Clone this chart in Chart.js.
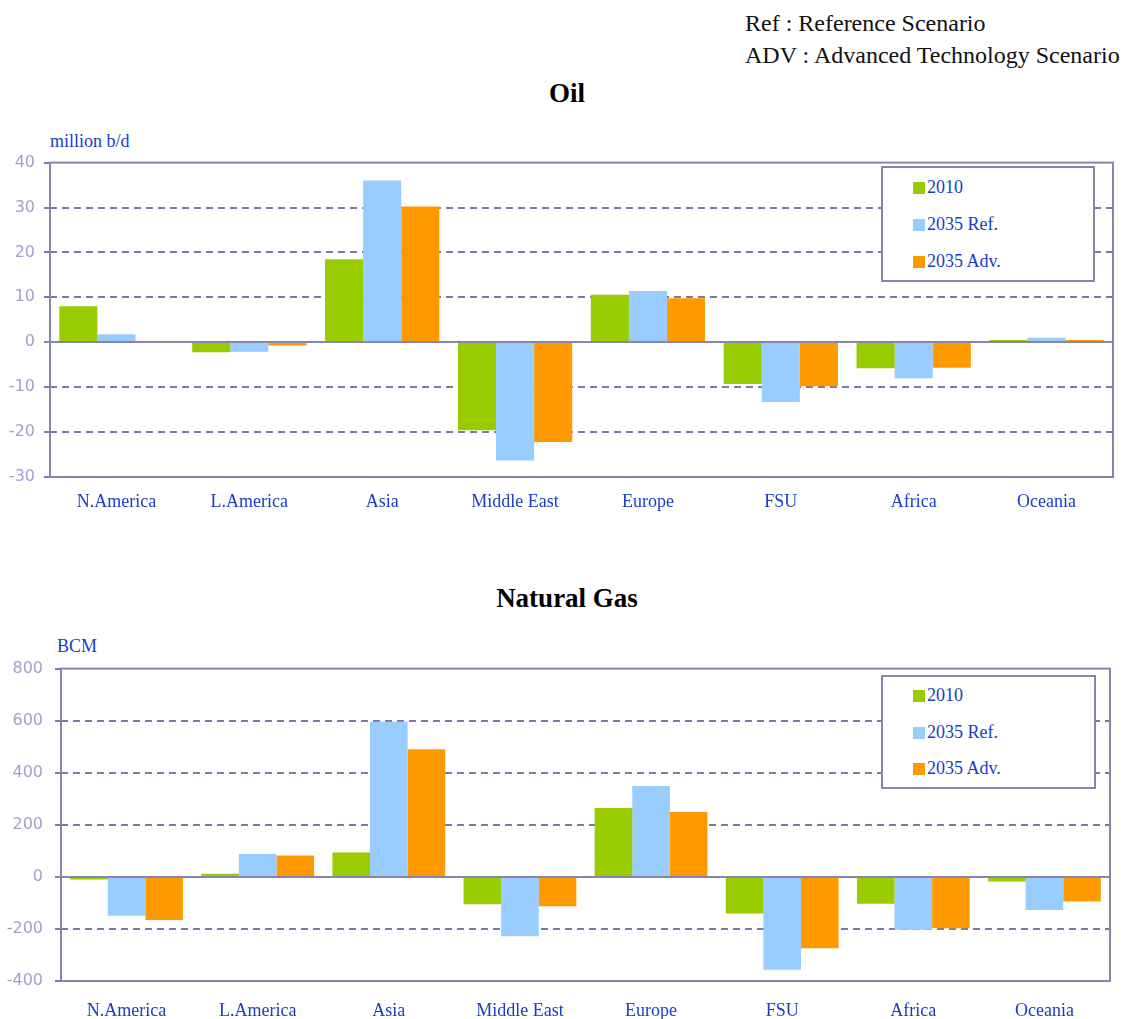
<!DOCTYPE html>
<html>
<head>
<meta charset="utf-8">
<script src="https://cdn.jsdelivr.net/npm/chart.js@4.4.0/dist/chart.umd.min.js"></script>
<style>
  html, body { margin: 0; padding: 0; background: #fff; }
  body { width: 1123px; height: 1019px; position: relative; overflow: hidden;
         font-family: "Liberation Serif", "Times New Roman", serif; }
  .note { position: absolute; left: 745px; font-size: 24px; color: #111; white-space: nowrap; line-height: 1; }
  .title { position: absolute; left: 0; width: 1134px; text-align: center; font-weight: bold;
           font-size: 27px; color: #000; line-height: 1; }
  .unit { position: absolute; font-size: 18px; color: #1a3cc8; line-height: 1; }
  .plot { position: absolute; left: 0; width: 1123px; height: 370px; }
  .legend { position: absolute; border: 2px solid #8585ad; box-sizing: border-box; background: #fff; }
  .legend .item { position: absolute; left: 30px; font-size: 18px; color: #1a3cc8; line-height: 1; white-space: nowrap; }
  .legend .sw { display: inline-block; width: 12px; height: 12px; margin-right: 2px; vertical-align: -1px; }
</style>
</head>
<body>
<div class="note" style="top:11px">Ref : Reference Scenario</div>
<div class="note" style="top:43px">ADV : Advanced Technology Scenario</div>

<div class="title" style="top:80px">Oil</div>
<div class="unit" style="left:50px;top:132px">million b/d</div>
<div class="plot" style="top:146px"><canvas id="oilChart"></canvas></div>
<div class="legend" id="oilLegend" style="left:881px;top:166px;width:214px;height:116px"></div>

<div class="title" style="top:585px">Natural Gas</div>
<div class="unit" style="left:57px;top:637px">BCM</div>
<div class="plot" style="top:649px"><canvas id="gasChart"></canvas></div>
<div class="legend" id="gasLegend" style="left:881px;top:675px;width:215px;height:114px"></div>

<script>
// ------------------------------
//  DATA
// ------------------------------
const REGIONS = ['N.America', 'L.America', 'Asia', 'Middle East', 'Europe', 'FSU', 'Africa', 'Oceania'];
const SERIES  = ['2010', '2035 Ref.', '2035 Adv.'];
const COLORS  = ['#99cc00', '#99ccff', '#ff9900'];

// oil, million b/d
const OIL_2010 = [8.0, -2.2, 18.5, -19.6, 10.6, -9.3, -5.8, 0.5];
const OIL_REF  = [1.8, -2.1, 36.0, -26.3, 11.4, -13.3, -8.0, 1.0];
const OIL_ADV  = [0.0, -0.7, 30.2, -22.2,  9.8,  -9.8, -5.7, 0.5];
const OIL_TICKS = { min: -30, max: 40, step: 10 };

// natural gas, BCM
const GAS_2010 = [-10,  12,  94, -105, 265, -141, -103,  -18];
const GAS_REF  = [-149, 88, 596, -228, 349, -357, -203, -127];
const GAS_ADV  = [-166, 82, 490, -113, 249, -274, -197,  -95];
const GAS_TICKS = { min: -400, max: 800, step: 200 };

// ------------------------------
//  STYLE
// ------------------------------
const FRAME = '#8585ad';
const GRID  = '#7a7aa6';
const TICK_TEXT = '#a0a0cc';
const LABEL_BLUE = '#1a3cc8';

// dashed grid behind the bars, zero line + frame on top
const framePlugin = {
  id: 'frame',
  beforeDatasetsDraw(chart) {
    const { ctx, chartArea: a, scales: { y } } = chart;
    ctx.save();
    ctx.lineWidth = 2;
    ctx.strokeStyle = GRID;
    y.ticks.forEach(t => {
      const py = Math.round(y.getPixelForValue(t.value));
      // tick mark left of the axis
      ctx.setLineDash([]);
      ctx.beginPath(); ctx.moveTo(a.left - 6, py); ctx.lineTo(a.left, py); ctx.stroke();
      if (t.value === 0 || t.value === y.min || t.value === y.max) return;
      ctx.setLineDash([7, 5]);
      ctx.beginPath(); ctx.moveTo(a.left, py); ctx.lineTo(a.right, py); ctx.stroke();
    });
    ctx.restore();
  },
  afterDatasetsDraw(chart) {
    const { ctx, chartArea: a, scales: { y } } = chart;
    ctx.save();
    ctx.lineWidth = 2;
    ctx.strokeStyle = FRAME;
    const z = Math.round(y.getPixelForValue(0));
    ctx.beginPath(); ctx.moveTo(a.left - 6, z); ctx.lineTo(a.right, z); ctx.stroke();
    ctx.strokeRect(a.left, a.top, a.right - a.left, a.bottom - a.top);
    ctx.restore();
  }
};

function makeChart(id, series, ticks, box) {
  return new Chart(document.getElementById(id), {
    type: 'bar',
    data: {
      labels: REGIONS,
      datasets: series.map((data, i) => ({
        label: SERIES[i],
        data,
        backgroundColor: COLORS[i],
        borderWidth: 0,
      }))
    },
    options: {
      responsive: true,
      maintainAspectRatio: false,
      animation: false,
      layout: { padding: { left: 0, right: box.right, top: box.top, bottom: 0 } },
      plugins: { legend: { display: false }, tooltip: { enabled: false } },
      datasets: { bar: { categoryPercentage: 0.86, barPercentage: 1.0 } },
      scales: {
        x: {
          grid: { display: false },
          border: { display: false },
          ticks: { color: LABEL_BLUE, padding: box.xPad, maxRotation: 0,
                   font: { family: '"Liberation Serif", serif', size: 18 } },
          afterFit: s => { s.height = box.xHeight; }
        },
        y: {
          min: ticks.min, max: ticks.max,
          grid: { display: false },
          border: { display: false },
          ticks: { stepSize: ticks.step, color: TICK_TEXT, padding: box.yPad,
                   font: { family: '"DejaVu Sans", sans-serif', size: 16 } },
          afterFit: s => { s.width = box.yWidth; }
        }
      }
    },
    plugins: [framePlugin]
  });
}

function renderLegend(id, rows) {
  document.getElementById(id).innerHTML = SERIES.map((name, i) => `
    <div class="item" style="top:${rows[i]}px"><span class="sw" style="background:${COLORS[i]}"></span>${name}</div>
  `).join('');
}

makeChart('oilChart', [OIL_2010, OIL_REF, OIL_ADV], OIL_TICKS,
  { top: 1, right: 10, yWidth: 50, yPad: 7, xHeight: 39, xPad: 6 });
makeChart('gasChart', [GAS_2010, GAS_REF, GAS_ADV], GAS_TICKS,
  { top: 0, right: 13, yWidth: 61, yPad: 10, xHeight: 38, xPad: 11 });
renderLegend('oilLegend', [10, 47, 84]);
renderLegend('gasLegend', [9, 46, 82]);
</script>
</body>
</html>
